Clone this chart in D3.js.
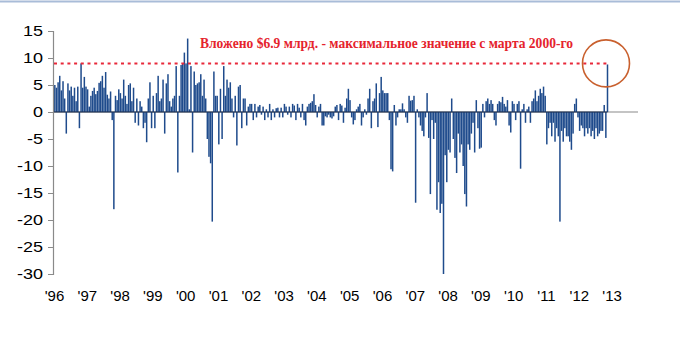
<!DOCTYPE html>
<html>
<head>
<meta charset="utf-8">
<script src="https://cdn.jsdelivr.net/npm/d3@7"></script>
<style>
  html, body { margin: 0; padding: 0; background: #fff; }
  svg { display: block; }
</style>
</head>
<body>
<svg id="chart" width="680" height="351"></svg>
<script>
// ---- data (fund flows, $bn), ~20 readings per year ----
const flows1996 = [5, 4.5, 5.5, 6.7, 4, 5.7, 2.5, -4, 5.3, 4, 4.7, 3, 4.5, 2, 4.7, -3, 9, 4.5, 6.5, 4.7];
const flows1997 = [4.2, 1, 3, 3.9, 4.5, 3.3, 3.9, 5.4, 5.7, 6.7, 4.5, 7.4, 3.2, 2.5, 3.8, -1.5, -18, 3, 2.2, 4.2];
const flows1998 = [3.5, 2.5, 6, 3, 1.5, 5, 5.3, 2, 4.5, -2, 2.5, -2.5, 2, 1, -3, -2, -5.6, 2.5, 5.5, -3];
const flows1999 = [3, -3, 3.5, 6.7, 2, 2.5, 6, -4, 5.3, 7, 2, 1, 2.5, 3, 8.5, -11.2, 3, 8.7, 9, 11];
const flows2000 = [9, 13.6, 0.5, 8.5, -7.5, 7.5, 5, 5.3, 5.5, 7, 3, 6, 2.5, -5, -8.3, -9.5, -20.3, 7.5, 3, 3];
const flows2001 = [-6, 4.3, -5, 8.5, 3, 6, 4.5, 5.5, 2.5, -1, 3, -6.2, 4.7, 5, -3, 2.5, 2.5, -2.5, 1, 1.5];
const flows2002 = [1.5, -1.5, 1.5, -1, 1, 1.3, -0.5, 1, -1.5, 0.5, -1, 1.5, -1.5, 0.5, -1, 0.7, 0.8, -1, 0.8, -1];
const flows2003 = [1.5, 1, -0.5, 1, -1, 1.5, 1.2, -1.5, 1.5, 0.8, -1, 1.5, -1.5, -2.5, 1, 1.5, 1.7, 2, 3.3, 1.3];
const flows2004 = [-1, 1, 1.5, -2.5, -2.5, -0.8, -1, -0.5, -1, -1.2, -0.8, 1, 1.3, -1.5, 1.5, 1.2, -2, 0.8, 2.5, 4.3];
const flows2005 = [2.2, -1, -2.3, -1.5, 0.5, 1, 1.5, -2.5, -1, 0.5, -0.5, 2.5, 4.3, -3, 2, 2.5, 5.3, -2.8, 3.5, 6.5];
const flows2006 = [4, 3.5, 3.5, 3.5, -1.5, -10.6, -11, 1.3, -2.5, -1, 0.5, 0.5, 1.6, 0.5, -1, -2, 3, 2.1, 2.2, 3];
const flows2007 = [-16.8, 0.5, -1, -2.5, -3.5, -4.5, -1, 3.5, -4.8, -15.2, -1.5, -5, -2, -18.1, -13, -18.7, -17, -30, -8, -13];
const flows2008 = [-7, -7.5, 2.5, -5, -8.5, -11.3, -4, -7.5, -6, -10, -15.2, -17.5, -6, -7, -4, -2, -7.5, 2.2, -3, -6.8];
const flows2009 = [-6.6, 1.5, -1, 2, 2.5, 1.5, 2.2, 1.5, -1.5, -2.5, 1.5, 2, 1.8, 2.8, 1.5, 1, 2.2, -2.5, -3.8, 2];
const flows2010 = [1.5, -1.5, 1.5, 2, -10.5, 0.5, 1.5, -2, 0.5, 1, -2, 2, 2.5, 4, 2, 3, 4.3, 3.5, 4.7, 3];
const flows2011 = [-6, -3, -2, -4.5, -2, -5.5, -3, -4.5, -20.3, -3.5, -5.5, -3, -4.5, -4.5, -5.5, -7, -4, 1.5, 2.5, -1];
const flows2012 = [-3.5, -2.5, -3, -4.5, -3, -4, -3, -4.5, -3.5, -5, -3, -4.5, -4, -3.5, -3.5, 1.3, -4.8, 8.8];

const yearLabels = ["'96","'97","'98","'99","'00","'01","'02","'03","'04","'05","'06","'07","'08","'09","'10","'11","'12","'13"];
const yTickValues = [15, 10, 5, 0, -5, -10, -15, -20, -25, -30];
const recordLevel = [9];
const annotationText = ["Вложено $6.9 млрд. - максимальное значение с марта 2000-го"];

// ---- build ----
const flowsByYear = [
  [1996, flows1996], [1997, flows1997], [1998, flows1998], [1999, flows1999],
  [2000, flows2000], [2001, flows2001], [2002, flows2002], [2003, flows2003],
  [2004, flows2004], [2005, flows2005], [2006, flows2006], [2007, flows2007],
  [2008, flows2008], [2009, flows2009], [2010, flows2010], [2011, flows2011],
  [2012, flows2012]
];
const perYear = 20;
const data = flowsByYear.flatMap(([yr, arr]) => arr.map((v, i) => ({ t: yr + (i + 0.5) / perYear, v })));

const svg = d3.select('#chart');
const x = d3.scaleLinear().domain([1996, 2013]).range([54, 611.6]);
const y = d3.scaleLinear().domain([-30, 15]).range([274, 31]);

// top header rule (cropped title area)
svg.append('line').attr('x1', 0).attr('x2', 680).attr('y1', 1.5).attr('y2', 1.5)
  .attr('stroke', '#a9bcd8').attr('stroke-width', 2);

// zero line (full length, gray)
svg.append('line').attr('x1', 53).attr('x2', 638).attr('y1', y(0)).attr('y2', y(0))
  .attr('stroke', '#8a8a8a').attr('stroke-width', 1.2);

// bars
const barW = 1.5;
svg.append('g').selectAll('rect').data(data).join('rect')
  .attr('x', d => x(d.t) - barW / 2)
  .attr('width', barW)
  .attr('y', d => y(Math.max(0, d.v)))
  .attr('height', d => Math.abs(y(d.v) - y(0)))
  .attr('fill', '#1f4b8c');

// dark baseline under bars
svg.append('line')
  .attr('x1', x(data[0].t) - 1).attr('x2', x(data[data.length - 1].t))
  .attr('y1', y(0)).attr('y2', y(0))
  .attr('stroke', '#1c2f4f').attr('stroke-width', 1.2);

// y axis
const yScaleX = 1.2;
const yAxis = d3.axisLeft(y).tickValues(yTickValues).tickSize(5).tickPadding(5);
const gy = svg.append('g').attr('transform', 'translate(53,0)').call(yAxis);
gy.select('.domain').attr('stroke', '#8a8a8a').attr('stroke-width', 1.2);
gy.selectAll('.tick line').attr('stroke', '#8a8a8a');
gy.selectAll('.tick text')
  .attr('font-family', 'Liberation Sans, Arial, sans-serif')
  .attr('font-size', 15).attr('fill', '#000')
  .attr('x', -10 / yScaleX)
  .attr('transform', `scale(${yScaleX},1)`)
  .text(d => d < 0 ? '-' + Math.abs(d) : d);

// x labels
const yearTicks = d3.range(1996, 2014);
const xAxis = d3.axisBottom(x).tickValues(yearTicks).tickSize(0).tickPadding(0)
  .tickFormat((d, i) => yearLabels[i]);
const gx = svg.append('g').attr('transform', 'translate(0,290.5)').call(xAxis);
gx.select('.domain').remove();
gx.selectAll('.tick text')
  .attr('font-family', 'Liberation Sans, Arial, sans-serif')
  .attr('font-size', 15).attr('fill', '#000');

// record dashed line
svg.append('line')
  .attr('x1', 54).attr('x2', x(data[data.length - 1].t) - 1)
  .attr('y1', y(recordLevel[0])).attr('y2', y(recordLevel[0]))
  .attr('stroke', '#e8283a').attr('stroke-width', 2)
  .attr('stroke-dasharray', '3,3.7');

// annotation text
svg.append('text')
  .attr('x', 200).attr('y', 48)
  .attr('font-family', 'Liberation Serif, Times New Roman, serif')
  .attr('font-size', 14.5)
  .attr('font-weight', 'bold')
  .attr('fill', '#e5232d')
  .attr('textLength', 373).attr('lengthAdjust', 'spacingAndGlyphs')
  .text(annotationText[0]);

// circle highlight
const last = data[data.length - 1];
svg.append('circle')
  .attr('cx', x(last.t) - 1.5).attr('cy', y(recordLevel[0]))
  .attr('r', 23.5)
  .attr('fill', 'none').attr('stroke', '#c9602e').attr('stroke-width', 1.6);
</script>
</body>
</html>
